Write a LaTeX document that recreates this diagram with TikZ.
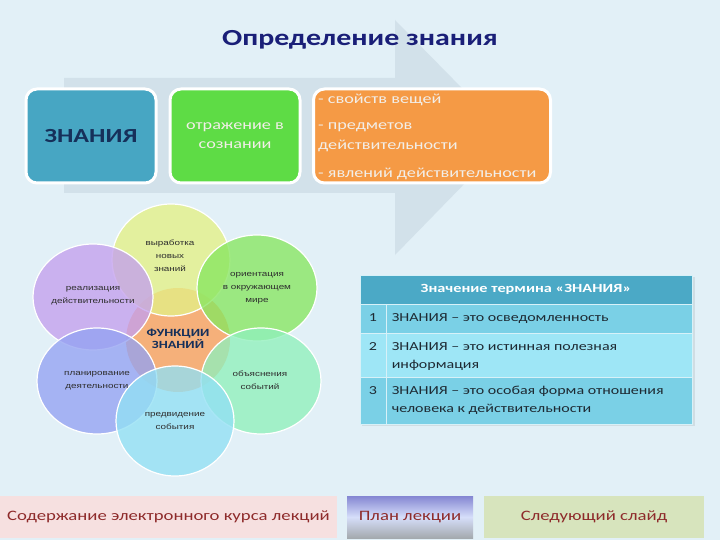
\documentclass[tikz,border=0pt]{standalone}
\usepackage{fontspec}
\setmainfont[FakeStretch=1.3]{Carlito}
\newfontfamily\smallsans[FakeStretch=1.3]{Liberation Sans}
\usetikzlibrary{shapes.geometric}
\definecolor{bg}{HTML}{E2F0F7}
\definecolor{arrowc}{HTML}{D2E1EA}
\definecolor{teal}{HTML}{47A6C3}
\definecolor{grn}{HTML}{5EDC45}
\definecolor{org}{HTML}{F59A45}
\definecolor{navy}{HTML}{1A1F78}
\definecolor{dnavy}{HTML}{16305A}
\definecolor{lighttxt}{HTML}{F2EEE8}
\definecolor{cOrange}{HTML}{F5B07A}
\definecolor{cTop}{HTML}{E4F086}
\definecolor{cUR}{HTML}{88E660}
\definecolor{cUL}{HTML}{C4A0EE}
\definecolor{cLL}{HTML}{94A2F2}
\definecolor{cLR}{HTML}{90F0BC}
\definecolor{cBot}{HTML}{92E0F4}
\definecolor{thead}{HTML}{4BA9C6}
\definecolor{trowA}{HTML}{7AD0E6}
\definecolor{trowB}{HTML}{9EE6F6}
\definecolor{ttext}{HTML}{1E2A33}
\definecolor{btntext}{HTML}{8E2B2B}
\definecolor{pinkb}{HTML}{F6E0E0}
\definecolor{greenb}{HTML}{D7E4BD}
\definecolor{btop}{HTML}{8486D2}
\definecolor{bmid}{HTML}{D6DEFA}
\definecolor{bbot}{HTML}{A4AAAE}
\tikzset{
  topbox/.style={draw=white, line width=3pt, rounded corners=11pt, inner sep=0pt},
  bubble/.style={ellipse, draw=white, line width=1.2pt, fill opacity=0.78, inner sep=0pt, minimum width=120pt, minimum height=106pt},
  btxt/.style={font=\smallsans\fontsize{7.6}{13}\selectfont, text=black!82, align=center},
  cell/.style={draw=white!70!trowA, line width=0.8pt, inner sep=0pt},
  rowtxt/.style={font=\fontsize{12.3}{18}\selectfont, text=ttext, align=left, anchor=west, inner sep=0pt},
  numtxt/.style={font=\fontsize{12.3}{18}\selectfont, text=ttext, inner sep=0pt},
  otxt/.style={font=\fontsize{14}{16}\selectfont, text=lighttxt, anchor=west, inner sep=0pt},
  button/.style={inner sep=0pt, font=\fontsize{14.4}{16}\selectfont, text=btntext}
}
\begin{document}
\begin{tikzpicture}[x=1pt,y=-1pt]
\useasboundingbox (0,0) rectangle (720,540);
\fill[bg] (0,0) rectangle (720,540);
% big arrow
\fill[arrowc] (64,78) -- (395,78) -- (395,20) -- (510,137) -- (395,255) -- (395,193) -- (64,193) -- cycle;
% title
\node[font=\bfseries\fontsize{23}{28}\selectfont, text=navy] (title) at (360,40) {Определение знания};
% top boxes
\node[topbox, fill=teal, minimum width=130pt, minimum height=94pt, font=\bfseries\fontsize{20}{24}\selectfont, text=dnavy] (zn) at (91,136) {ЗНАНИЯ};
\node[topbox, fill=grn, minimum width=130pt, minimum height=94pt, font=\fontsize{14}{19}\selectfont, text=lighttxt, align=center] (otr) at (235,136) {отражение в\\сознании};
\node[topbox, fill=org, minimum width=237pt, minimum height=94pt] (props) at (432,136) {};
\node[otxt] (o1) at (318,100) {- свойств вещей};
\node[otxt] (o2) at (318,127) {- предметов};
\node[otxt] (o3) at (318,146) {действительности};
\node[otxt] (o4) at (318,174) {- явлений действительности};
% functions diagram
\node[circle, fill=cOrange, minimum size=104pt, inner sep=0pt] (center) at (178,340) {};
\node[bubble, fill=cTop, minimum width=118pt, minimum height=112pt] (b1) at (171,260) {};
\node[bubble, fill=cUL] (b2) at (93,297) {};
\node[bubble, fill=cUR] (b3) at (257,288) {};
\node[bubble, fill=cLL] (b4) at (97,381) {};
\node[bubble, fill=cLR] (b5) at (261,381) {};
\node[bubble, fill=cBot, minimum width=118pt, minimum height=110pt] (b6) at (175,421) {};
\node[btxt] (t1) at (170,256) {выработка\\новых\\знаний};
\node[btxt] (t2) at (93,296) {реализация\\действительности};
\node[btxt] (t3) at (257,288) {ориентация\\в окружающем\\мире};
\node[btxt] (t4) at (97,381) {планирование\\деятельности};
\node[btxt] (t5) at (260,380) {объяснения\\событий};
\node[btxt] (t6) at (175,421) {предвидение\\события};
\node[font=\bfseries\fontsize{11}{12}\selectfont, text=dnavy, align=center] (ctext) at (178,339) {ФУНКЦИИ\\ЗНАНИЙ};
% table
\fill[black, opacity=0.08] (362,277) rectangle (695,426);
\node[cell, fill=thead, minimum width=332pt, minimum height=29pt, font=\bfseries\fontsize{12.5}{14}\selectfont, text=white] (thd) at (526,289.5) {Значение термина «ЗНАНИЯ»};
\node[cell, fill=trowA, minimum width=26pt, minimum height=29pt] (n1) at (373,318.5) {};
\node[cell, fill=trowA, minimum width=306pt, minimum height=29pt] (r1) at (539,318.5) {};
\node[cell, fill=trowB, minimum width=26pt, minimum height=44pt] (n2) at (373,355) {};
\node[cell, fill=trowB, minimum width=306pt, minimum height=44pt] (r2) at (539,355) {};
\node[cell, fill=trowA, minimum width=26pt, minimum height=47pt] (n3) at (373,400.5) {};
\node[cell, fill=trowA, minimum width=306pt, minimum height=47pt] (r3) at (539,400.5) {};
\node[rowtxt] (x1) at ([xshift=6]r1.west) {ЗНАНИЯ – это осведомленность};
\node[rowtxt] (x2) at ([xshift=6,yshift=-2]r2.west) {ЗНАНИЯ – это истинная полезная\\информация};
\node[rowtxt] (x3) at ([xshift=6]r3.west) {ЗНАНИЯ – это особая форма отношения\\человека к действительности};
\node[numtxt, anchor=base] (k1) at (x1.base -| n1.center) {1};
\node[numtxt, anchor=base] (k2) at ([yshift=18pt]x2.base -| n2.center) {2};
\node[numtxt, anchor=base] (k3) at ([yshift=18pt]x3.base -| n3.center) {3};
% buttons
\node[button, fill=pinkb, minimum width=337pt, minimum height=42pt] (bt1) at (168.5,517) {Содержание электронного курса лекций};
\node[button, top color=btop, bottom color=bbot, middle color=bmid, minimum width=126pt, minimum height=42pt] (bt2) at (410,517) {План лекции};
\node[button, fill=greenb, minimum width=220pt, minimum height=42pt] (bt3) at (594,517) {Следующий слайд};
\end{tikzpicture}
\end{document}
